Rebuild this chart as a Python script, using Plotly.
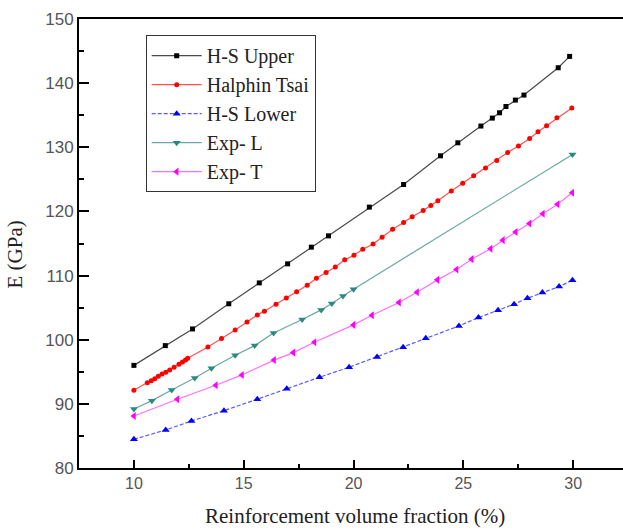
import plotly.graph_objects as go

# ---- data ----
hs_upper_x = [10.0, 11.43, 12.67, 14.32, 15.71, 17.0, 18.08, 18.86, 20.72, 22.28, 23.96, 24.75,
              25.8, 26.32, 26.65, 26.94, 27.37, 27.76, 29.32, 29.84]
hs_upper_y = [96.0, 99.08, 101.68, 105.6, 108.86, 111.83, 114.43, 116.19, 120.67, 124.2, 128.67, 130.7,
              133.31, 134.55, 135.38, 136.36, 137.36, 138.14, 142.4, 144.17]

ht_x = [10.0, 10.61, 10.79, 10.95, 11.11, 11.28, 11.45, 11.63, 11.83, 12.05, 12.21, 12.35, 12.45,
        13.37, 13.99, 14.61, 15.15, 15.62, 15.94, 16.47, 16.94, 17.41, 17.89, 18.31, 18.75, 19.17,
        19.6, 20.02, 20.42, 20.89, 21.3, 21.78, 22.28, 22.67, 23.17, 23.52, 23.84, 24.45, 24.97,
        25.47, 26.01, 26.52, 27.02, 27.51, 28.02, 28.4, 28.79, 29.26, 29.94]
ht_y = [92.12, 93.31, 93.62, 93.93, 94.31, 94.66, 94.93, 95.29, 95.71, 96.18, 96.54, 96.85, 97.11,
        98.88, 100.17, 101.53, 102.78, 103.87, 104.45, 105.54, 106.49, 107.49, 108.5, 109.59, 110.47,
        111.33, 112.45, 113.18, 114.09, 114.91, 115.99, 117.21, 118.27, 119.16, 120.14, 120.92,
        121.68, 123.17, 124.38, 125.55, 126.76, 127.94, 129.19, 130.19, 131.37, 132.42, 133.35,
        134.6, 136.12]

hs_lower_x = [10.0, 11.45, 12.62, 14.1, 15.62, 16.96, 18.45, 19.8, 21.07, 22.26, 23.29, 24.8,
              25.69, 26.58, 27.31, 27.92, 28.6, 29.36, 29.97]
hs_lower_y = [84.48, 85.93, 87.33, 88.94, 90.72, 92.37, 94.15, 95.71, 97.32, 98.83, 100.23, 102.15,
              103.45, 104.6, 105.54, 106.47, 107.35, 108.28, 109.28]

exp_l_x = [10.0, 10.82, 11.72, 12.77, 13.53, 14.61, 15.5, 16.36, 17.66, 18.53, 19.01, 19.52, 20.0, 29.97]
exp_l_y = [89.2, 90.5, 92.17, 94.04, 95.55, 97.58, 99.08, 101.06, 103.14, 104.65, 105.63, 106.83,
           107.88, 128.88]

exp_t_x = [10.0, 11.98, 13.73, 14.92, 16.38, 17.26, 18.22, 20.0, 20.84, 22.07, 22.89, 23.82, 24.69,
           25.38, 26.24, 26.8, 27.38, 28.01, 28.62, 29.29, 29.96]
exp_t_y = [88.11, 90.72, 92.9, 94.51, 96.82, 97.99, 99.61, 102.31, 103.82, 105.79, 107.41, 109.33,
           110.94, 112.56, 114.17, 115.52, 116.79, 118.11, 119.63, 121.11, 122.9]

names = ["H-S Upper", "Halphin Tsai", "H-S Lower", "Exp- L", "Exp- T"]
x_ticks = [10, 15, 20, 25, 30]
y_ticks = [80, 90, 100, 110, 120, 130, 140, 150]

series = [
    (hs_upper_x, hs_upper_y, "#4a4a4a", "#000000", "square", 5, "solid"),
    (ht_x, ht_y, "#ff5050", "#ff0000", "circle", 5, "solid"),
    (hs_lower_x, hs_lower_y, "#5a5aff", "#0000ff", "triangle-up", 7, "4px,2px"),
    (exp_l_x, exp_l_y, "#6aa8a0", "#2a8a80", "triangle-down", 7, "solid"),
    (exp_t_x, exp_t_y, "#ff70ff", "#ff00ff", "triangle-left", 7, "solid"),
]

fig = go.Figure()
for (xs, ys, lc, mc, sym, ms, dash), nm in zip(series, names):
    fig.add_trace(go.Scatter(
        x=xs, y=ys, name=nm, mode="lines+markers",
        line=dict(color=lc, width=1.2, dash=dash),
        marker=dict(color=mc, symbol=sym, size=ms, line=dict(width=0)),
    ))

tickfont = dict(family="Liberation Sans, Arial, sans-serif", size=16, color="#555555")
fig.update_layout(
    width=623, height=530,
    margin=dict(l=79, r=0, t=19, b=62),
    plot_bgcolor="white", paper_bgcolor="white",
    showlegend=True,
    legend=dict(
        x=0.1226, y=0.964, xanchor="left", yanchor="top",
        bgcolor="white", bordercolor="#333333", borderwidth=1,
        font=dict(family="Liberation Serif, Times New Roman, serif", size=20, color="#222222"),
        tracegroupgap=0, itemwidth=50,
    ),
    xaxis=dict(
        range=[7.5, 32.27], tickvals=x_ticks, ticktext=[str(v) for v in x_ticks],
        showline=True, linewidth=2, linecolor="black", mirror=True,
        ticks="inside", ticklen=8, tickwidth=2, tickcolor="black",
        minor=dict(ticks="inside", ticklen=4, tickwidth=2, tickcolor="black", dtick=2.5, tick0=0,
                   showgrid=False),
        showgrid=False, zeroline=False, tickfont=tickfont,
    ),
    yaxis=dict(
        range=[80, 150], tickvals=y_ticks, ticktext=[str(v) for v in y_ticks],
        showline=True, linewidth=2, linecolor="black", mirror=False,
        ticks="inside", ticklen=10, tickwidth=2, tickcolor="black",
        minor=dict(ticks="inside", ticklen=5, tickwidth=2, tickcolor="black", dtick=5, tick0=0,
                   showgrid=False),
        showgrid=False, zeroline=False, tickfont=dict(tickfont, size=17),
    ),
    annotations=[
        dict(text="Reinforcement volume fraction (%)", xref="paper", yref="paper",
             x=0.5075, y=-0.108, xanchor="center", yanchor="middle", showarrow=False,
             font=dict(family="Liberation Serif, Times New Roman, serif", size=21, color="#222222")),
        dict(text="E (GPa)", xref="paper", yref="paper", textangle=-90,
             x=-0.118, y=0.475, xanchor="center", yanchor="middle", showarrow=False,
             font=dict(family="Liberation Serif, Times New Roman, serif", size=21, color="#222222")),
    ],
)

fig.write_html("out.html")
